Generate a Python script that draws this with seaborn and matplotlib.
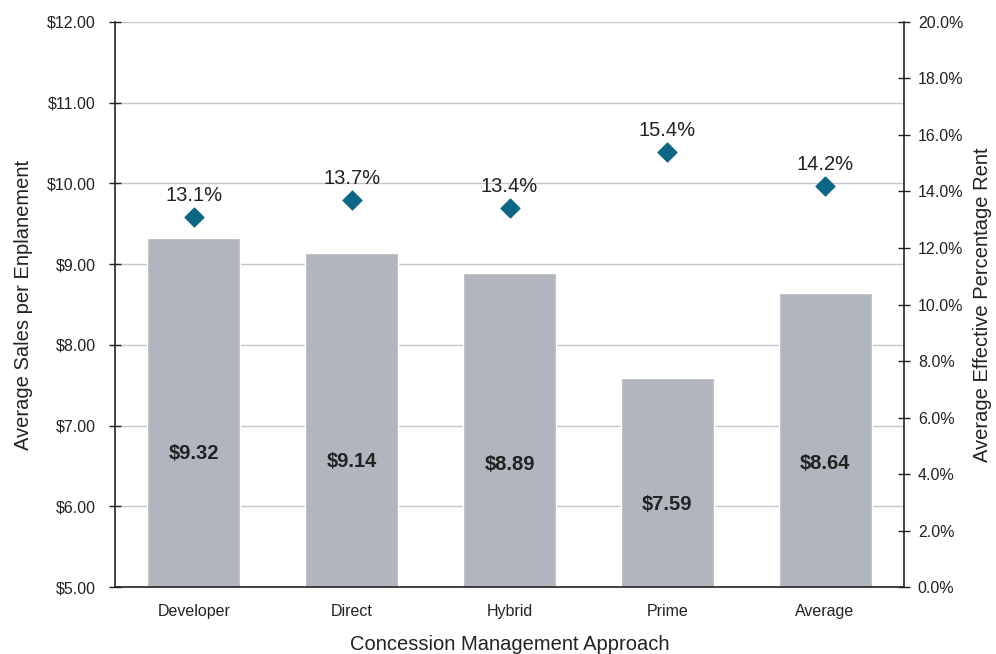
import matplotlib
matplotlib.use("Agg")
import matplotlib.pyplot as plt
from matplotlib.ticker import FuncFormatter, MultipleLocator, FixedLocator
import seaborn as sns
import pandas as pd

categories = ["Developer", "Direct", "Hybrid", "Prime", "Average"]
sales_per_enplanement = [9.32, 9.14, 8.89, 7.59, 8.64]
pct_rent = [13.1, 13.7, 13.4, 15.4, 14.2]

# vertical placement of the value labels inside the bars (in $ units)
bar_label_y = [6.66, 6.55, 6.52, 6.02, 6.53]

sns.set_theme(style="white")
plt.rcParams["font.family"] = ["Liberation Sans", "DejaVu Sans"]

df = pd.DataFrame({"approach": categories,
                   "sales": sales_per_enplanement,
                   "rent": pct_rent})

fig = plt.figure(figsize=(9.96, 6.54), dpi=100)
ax = fig.add_axes([0.1155, 0.1024, 0.7921, 0.864])

bar_color = "#B1B5BE"
marker_color = "#0B6585"
grid_color = "#C3C6CD"
text_color = "#222222"

sns.barplot(data=df, x="approach", y="sales", color=bar_color, width=0.59,
            saturation=1, ax=ax, zorder=2)
ax.set_ylim(5, 12)
ax.set_xlim(-0.5, 4.5)
ax.yaxis.set_major_locator(MultipleLocator(1))
ax.yaxis.set_major_formatter(FuncFormatter(lambda v, p: f"${v:.2f}"))
ax.grid(axis="y", color=grid_color, linewidth=1, zorder=0)
ax.set_axisbelow(True)

# Category boundaries carry the tick marks; names sit under bar centres
ax.xaxis.set_minor_locator(FixedLocator([i - 0.5 for i in range(len(categories) + 1)]))
ax.tick_params(axis="x", which="major", length=0, pad=12, labelsize=11.5, colors=text_color)
ax.tick_params(axis="x", which="minor", length=8, width=1, direction="inout", color=text_color)
ax.tick_params(axis="y", length=8, width=1, direction="inout", labelsize=11.5,
               colors=text_color, pad=10)

for s in ["top", "right"]:
    ax.spines[s].set_visible(False)
for s in ["left", "bottom"]:
    ax.spines[s].set_color(text_color)
    ax.spines[s].set_linewidth(1.2)

ax.set_xlabel("Concession Management Approach", fontsize=14.5, color=text_color, labelpad=12)
ax.set_ylabel("Average Sales per Enplanement", fontsize=14.5, color=text_color, labelpad=10)

for i, v in enumerate(sales_per_enplanement):
    ax.text(i, bar_label_y[i], f"${v:.2f}", ha="center", va="center",
            fontsize=14.5, fontweight="bold", color=text_color, zorder=3)

ax2 = ax.twinx()
sns.scatterplot(data=df, x="approach", y="rent", marker="D", s=95,
                color=marker_color, edgecolor=marker_color, ax=ax2, zorder=4)
ax2.set_ylim(0, 20)
ax2.set_xlim(-0.5, 4.5)
ax2.yaxis.set_major_locator(MultipleLocator(2))
ax2.yaxis.set_major_formatter(FuncFormatter(lambda v, p: f"{v:.1f}%"))
ax2.tick_params(axis="y", length=8, width=1, direction="inout", labelsize=11.5,
                colors=text_color, pad=6)
for s in ["top", "left", "bottom"]:
    ax2.spines[s].set_visible(False)
ax2.spines["right"].set_color(text_color)
ax2.spines["right"].set_linewidth(1.2)
ax2.set_ylabel("Average Effective Percentage Rent", fontsize=14.5, color=text_color,
               labelpad=7)

for i, r in enumerate(pct_rent):
    ax2.annotate(f"{r:.1f}%", (i, r), xytext=(0, 15.5), textcoords="offset points",
                 ha="center", va="center", fontsize=14.5, color=text_color)

fig.savefig("out.png", dpi=100)
